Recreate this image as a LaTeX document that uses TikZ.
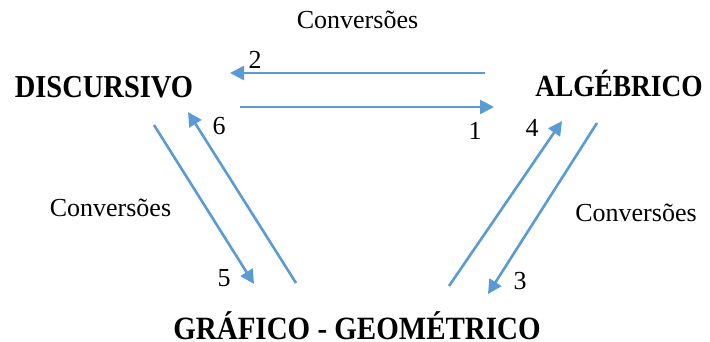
\documentclass[tikz,border=0pt]{standalone}
\usepackage{fontspec}
\setmainfont{Liberation Serif}
\usetikzlibrary{arrows.meta}
\definecolor{arrblue}{HTML}{5B9BD5}
\begin{document}
\begin{tikzpicture}[x=1pt,y=-1pt,
  conv/.style={draw=arrblue,line width=2.6pt,-{Triangle[length=14pt,width=14pt]}},
  title/.style={inner sep=0pt,anchor=base,yscale=1.12},
  lbl/.style={font=\fontsize{26}{30}\selectfont,inner sep=0pt},
  clbl/.style={font=\fontsize{26}{30}\selectfont,inner sep=0pt,anchor=base}]
\useasboundingbox (0,0) rectangle (710,342);
\node[title,font=\fontsize{28.5}{34}\selectfont\bfseries] (disc) at (104,98) {DISCURSIVO};
\node[title,font=\fontsize{27.4}{34}\selectfont\bfseries] (alg) at (619,97) {ALGÉBRICO};
\node[title,font=\fontsize{29}{34}\selectfont\bfseries] (graf) at (357,339) {GRÁFICO - GEOMÉTRICO};
\node[clbl] (ctop) at (357.5,29) {Conversões};
\node[clbl] (cleft) at (110.5,217) {Conversões};
\node[clbl] (cright) at (636,222) {Conversões};
\node[lbl] (n1) at (475,131) {1};
\node[lbl] (n2) at (255,60) {2};
\node[lbl] (n3) at (520,281) {3};
\node[lbl] (n4) at (532,128) {4};
\node[lbl] (n5) at (224,278) {5};
\node[lbl] (n6) at (219,126) {6};
\coordinate (a2s) at (485,73);  \coordinate (a2e) at (230,73);
\coordinate (a1s) at (240,107); \coordinate (a1e) at (494,107);
\coordinate (a5s) at (154,125); \coordinate (a5e) at (254,284);
\coordinate (a6s) at (296,283); \coordinate (a6e) at (188,112);
\coordinate (a4s) at (449,286); \coordinate (a4e) at (562,121);
\coordinate (a3s) at (597,123); \coordinate (a3e) at (488,294);
\draw[conv] (a2s) -- (a2e);
\draw[conv] (a1s) -- (a1e);
\draw[conv] (a5s) -- (a5e);
\draw[conv] (a6s) -- (a6e);
\draw[conv] (a4s) -- (a4e);
\draw[conv] (a3s) -- (a3e);
\end{tikzpicture}
\end{document}
